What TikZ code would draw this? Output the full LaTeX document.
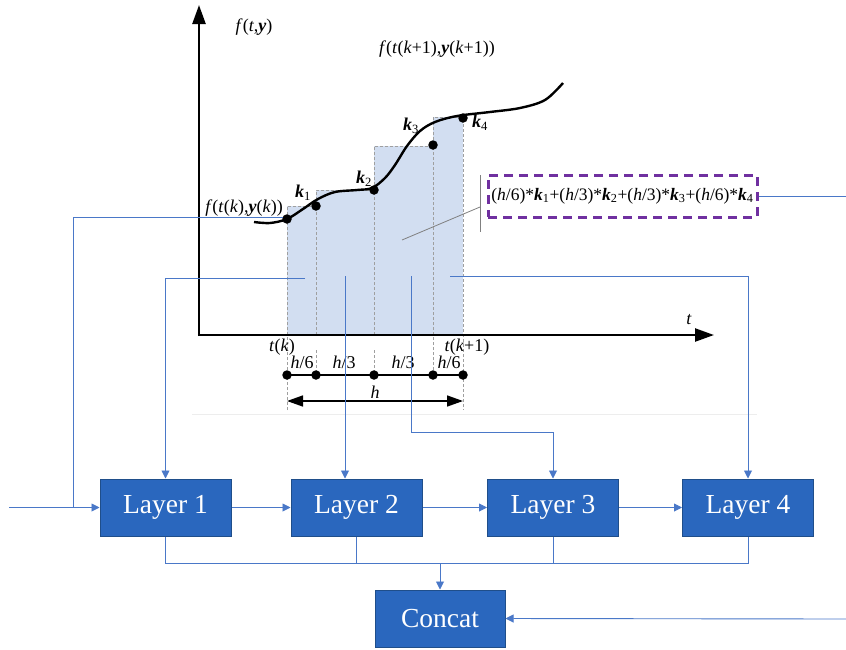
\documentclass[tikz,border=0pt]{standalone}
\usepackage{fontspec}
\setmainfont{Liberation Serif}
\usetikzlibrary{arrows.meta,calc}
\definecolor{layerfill}{HTML}{2A67BE}
\definecolor{layerdraw}{HTML}{1F4E8A}
\definecolor{connc}{HTML}{4A78C8}
\definecolor{rectfill}{HTML}{D2DEF1}
\definecolor{purp}{HTML}{7030A0}
\newcommand\iv[1]{\textit{#1}}
\newcommand\bv[1]{\textbf{\textit{#1}}}
\begin{document}
\begin{tikzpicture}[x=1pt,y=-1pt,
  layerbox/.style={draw=layerdraw, line width=1pt, fill=layerfill, text=white,
    font=\fontsize{27.5}{30}\selectfont, minimum width=131pt, minimum height=57pt, inner sep=0pt},
  lbl/.style={font=\fontsize{18}{21}\selectfont, inner sep=0pt},
  conn/.style={draw=connc, line width=0.9pt},
  connarrow/.style={conn, -{Triangle[length=8pt,width=8pt]}},
  axisline/.style={line width=2.4pt, -{Triangle[length=19pt,width=13pt]}},
  guide/.style={draw=gray!75, line width=0.8pt, dash pattern=on 3pt off 2pt},
  kdot/.style={circle, fill=black, inner sep=0pt, minimum size=9.5pt},
]
\useasboundingbox (0,0) rectangle (846,649);

% faint frame line
\draw[black!7, line width=0.8pt] (192,414) -- (757,414);

% RK rectangles
\fill[rectfill] (287,206) rectangle (316,335);
\fill[rectfill] (316,190) rectangle (374,335);
\fill[rectfill] (374,146) rectangle (433,335);
\fill[rectfill] (433,117) rectangle (463,335);
\draw[guide] (287,410) -- (287,206) -- (316,206);
\draw[guide] (316,335) -- (316,190) -- (374,190);
\draw[guide] (374,335) -- (374,146) -- (433,146);
\draw[guide] (433,375) -- (433,117) -- (463,117) -- (463,410);
\draw[guide] (316,350) -- (316,375);
\draw[guide] (374,350) -- (374,375);

% curve
\draw[line width=2.4pt] plot[smooth, tension=0.55] coordinates {
  (254,222) (270,223) (287,219) (303,209) (318,199) (335,192) (357,190)
  (372,188) (385,178) (395,165) (407,146) (420,131) (435,122) (457,116)
  (490,112) (520,108) (545,100) (563,83)};

% axes
\draw[axisline] (199,336.2) -- (199,5);
\draw[axisline] (197.8,335) -- (714,335);

% connector end points in the plot
\coordinate (fkpt) at (283,217);
\coordinate (lj) at (73,217);
\coordinate (r1) at (305,278);
\coordinate (r2) at (345,276);
\coordinate (r3) at (411,276);
\coordinate (r3b) at (411,432);
\coordinate (r4) at (450,276);
\coordinate (in) at (9,507.5);
\coordinate (sout) at (846,196);
\coordinate (cin) at (846,619);

% dots on curve
\node[kdot] (d0) at (287,219) {};
\node[kdot] (d1) at (316,206) {};
\node[kdot] (d2) at (374,190) {};
\node[kdot] (d3) at (433,145) {};
\node[kdot] (d4) at (463,118) {};

% labels on plot
\node[lbl] (fty) at (254,27) {\iv{f}(\iv{t},\bv{y})};
\node[lbl] (fk1) at (437,49) {\iv{f}(\iv{t}(\iv{k}+1),\bv{y}(\iv{k}+1))};
\node[lbl, anchor=east] (fk) at (283,208) {\iv{f}(\iv{t}(\iv{k}),\bv{y}(\iv{k}))};
\node[lbl] (k1) at (303,193) {\bv{k}\textsubscript{1}};
\node[lbl] (k2) at (364,179) {\bv{k}\textsubscript{2}};
\node[lbl] (k3) at (411,126) {\bv{k}\textsubscript{3}};
\node[lbl] (k4) at (480,123) {\bv{k}\textsubscript{4}};
\node[lbl] (tl) at (689,320) {\iv{t}};
\node[lbl] (tk) at (282,347) {\iv{t}(\iv{k})};
\node[lbl] (tk1) at (467,347) {\iv{t}(\iv{k}+1)};

% h partition
\draw[line width=1.5pt] (287,375) -- (463,375);
\node[kdot] (p0) at (287,375) {};
\node[kdot] (p1) at (316,375) {};
\node[kdot] (p2) at (374,375) {};
\node[kdot] (p3) at (433,375) {};
\node[kdot] (p4) at (463,375) {};
\node[lbl] (h1) at (302,362) {\iv{h}/6};
\node[lbl] (h2) at (344,362) {\iv{h}/3};
\node[lbl] (h3) at (403,362) {\iv{h}/3};
\node[lbl] (h4) at (449,362) {\iv{h}/6};
\coordinate (ha) at (287,401);
\coordinate (hb) at (463,401);
\draw[line width=1.5pt, {Triangle[length=16pt,width=11pt]}-{Triangle[length=16pt,width=11pt]}] (ha) -- (hb);
\node[lbl] (hl) at (375,392) {\iv{h}};

% weighted sum box
\node[draw=purp, line width=3pt, dash pattern=on 9pt off 6pt, minimum width=269pt,
  minimum height=42pt, inner sep=0pt, font=\fontsize{17.5}{20}\selectfont] (sum) at (622.5,196)
  {(\iv{h}/6)*\bv{k}\textsubscript{1}+(\iv{h}/3)*\bv{k}\textsubscript{2}+(\iv{h}/3)*\bv{k}\textsubscript{3}+(\iv{h}/6)*\bv{k}\textsubscript{4}};
\coordinate (g1) at (480,175);
\coordinate (g2) at (480,232);
\coordinate (g3) at (402,240);
\coordinate (g4) at (480,207);
\draw[gray, line width=0.8pt] (g1) -- (g2);
\draw[gray, line width=0.8pt] (g3) -- (g4);
\draw[conn] (sum.east) -- (sout);

% layers
\node[layerbox] (L1) at (165.5,507.5) {Layer 1};
\node[layerbox] (L2) at (356.5,507.5) {Layer 2};
\node[layerbox] (L3) at (553,507.5) {Layer 3};
\node[layerbox] (L4) at (748,507.5) {Layer 4};
\node[layerbox, minimum width=130pt] (C) at (440,618.5) {Concat};
\coordinate (bus) at (440,563);

\draw[connarrow] (in) -- (L1.west);
\draw[conn] (fkpt) -- (lj) -- (lj |- L1.west);
\draw[connarrow] (r1) -| (L1.north);
\draw[connarrow] (r2) -- (r2 |- L2.north);
\draw[connarrow] (r3) -- (r3b) -| (L3.north);
\draw[connarrow] (r4) -| (L4.north);
\draw[connarrow] (L1.east) -- (L2.west);
\draw[connarrow] (L2.east) -- (L3.west);
\draw[connarrow] (L3.east) -- (L4.west);
\draw[conn] (L1.south) -- (L1.south |- bus) -- (L4.south |- bus) -- (L4.south);
\draw[conn] (L2.south) -- (L2.south |- bus);
\draw[conn] (L3.south) -- (L3.south |- bus);
\draw[connarrow] (bus) -- (C.north);
\draw[connarrow] (cin) -- (C.east);
\end{tikzpicture}
\end{document}
